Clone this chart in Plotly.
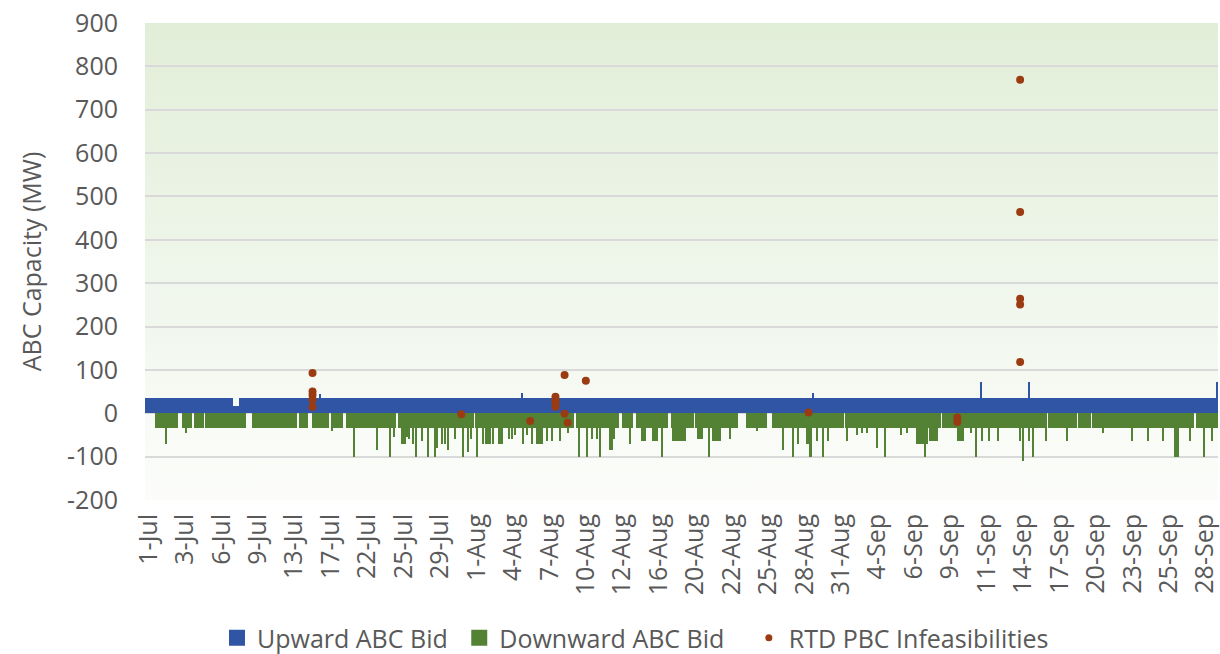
import base64
import plotly.graph_objects as go

# ---------------- data ----------------
N_INTERVALS = 1060          # number of interval categories on the x axis
LABEL_STEP = 36             # a date label every 36 intervals
LABEL_OFFSET = 3
date_labels = ["1-Jul", "3-Jul", "6-Jul", "9-Jul", "13-Jul", "17-Jul", "22-Jul", "25-Jul", "29-Jul",
               "1-Aug", "4-Aug", "7-Aug", "10-Aug", "12-Aug", "16-Aug", "20-Aug", "22-Aug", "25-Aug",
               "28-Aug", "31-Aug", "4-Sep", "6-Sep", "9-Sep", "11-Sep", "14-Sep", "17-Sep", "20-Sep",
               "23-Sep", "25-Sep", "28-Sep"]
y_tick_values = [-200, -100, 0, 100, 200, 300, 400, 500, 600, 700, 800, 900]
y_tick_labels = ["-200", "-100", "0", "100", "200", "300", "400", "500", "600", "700", "800", "900"]
series_names = ["Upward ABC Bid", "Downward ABC Bid", "RTD PBC Infeasibilities"]

# Upward ABC bid: typical level plus exceptions (start, end, MW)
up_level = 35
up_exceptions = [(86, 92, 16), (139, 139, 28), (172, 172, 45), (372, 372, 47), (659, 659, 47),
                 (685, 685, 0), (825, 825, 72), (873, 873, 72), (1059, 1059, 72)]

# Downward ABC bid: runs at the typical level (start, end) and deeper intervals (start, end, MW)
down_level = -35
down_runs = [(10, 31), (37, 45), (49, 57), (60, 98), (106, 128), (130, 149), (153, 160), (165, 180),
             (184, 194), (199, 217), (219, 236), (238, 246), (250, 310), (312, 324), (326, 346),
             (348, 368), (370, 377), (378, 422), (426, 455), (457, 467), (472, 481), (486, 499),
             (501, 515), (520, 541), (544, 572), (574, 584), (594, 613), (620, 681), (683, 689),
             (692, 697), (699, 785), (788, 890), (893, 919), (922, 933), (936, 1035), (1039, 1059)]
down_deep = [(20, 20, -70), (40, 40, -45), (184, 184, -42), (206, 206, -100), (229, 229, -85),
             (242, 242, -100), (245, 245, -55), (253, 256, -70), (257, 258, -55), (260, 260, -60),
             (264, 264, -70), (267, 267, -100), (273, 273, -65), (279, 279, -100), (286, 286, -100),
             (288, 288, -80), (293, 293, -70), (296, 296, -70), (299, 299, -85), (306, 306, -60),
             (314, 314, -100), (319, 319, -90), (322, 322, -60), (327, 327, -100), (333, 333, -70),
             (336, 336, -70), (338, 338, -70), (340, 340, -70), (343, 343, -70), (349, 352, -70),
             (359, 359, -60), (362, 362, -60), (365, 365, -50), (373, 373, -70), (377, 377, -50),
             (382, 382, -70), (387, 392, -70), (397, 397, -65), (402, 402, -65), (409, 409, -65),
             (417, 417, -45), (428, 428, -100), (436, 436, -100), (441, 441, -60), (446, 446, -60),
             (449, 449, -100), (459, 461, -85), (463, 463, -60), (479, 479, -70), (490, 493, -65),
             (501, 505, -65), (510, 510, -100), (521, 533, -65), (546, 550, -60), (557, 557, -100),
             (561, 568, -65), (577, 577, -60), (604, 604, -40), (630, 630, -85), (640, 640, -100),
             (645, 645, -70), (653, 655, -70), (656, 657, -100), (663, 663, -65), (669, 669, -100),
             (674, 674, -65), (693, 693, -65), (703, 703, -50), (708, 708, -45), (713, 713, -45),
             (723, 723, -80), (731, 731, -100), (746, 746, -50), (752, 752, -45), (762, 772, -70),
             (770, 770, -100), (775, 782, -65), (803, 808, -65), (815, 815, -45), (820, 820, -100),
             (826, 826, -65), (833, 833, -65), (842, 842, -65), (864, 864, -65), (867, 867, -110),
             (873, 873, -65), (877, 877, -100), (890, 890, -65), (910, 910, -65), (946, 946, -45),
             (975, 975, -65), (990, 990, -65), (1005, 1005, -65), (1017, 1020, -100),
             (1032, 1032, -65), (1046, 1046, -100), (1054, 1054, -65)]

# RTD PBC infeasibilities (interval, MW)
infeas_interval = [165, 165, 165, 165, 165, 312, 380, 405, 405, 405, 405, 414, 414, 417, 435,
                   655, 802, 802, 864, 864, 864, 864, 864]
infeas_mw = [93, 50, 42, 32, 15, -2, -18, 38, 30, 25, 15, 88, -1, -22, 75,
             2, -10, -20, 769, 464, 264, 251, 118]

# ---------------- build series ----------------
intervals = list(range(N_INTERVALS))
upward = [up_level] * N_INTERVALS
for s, e, v in up_exceptions:
    for i in range(s, e + 1):
        upward[i] = v
downward = [0] * N_INTERVALS
for s, e in down_runs:
    for i in range(s, e + 1):
        downward[i] = down_level
for s, e, v in down_deep:
    for i in range(s, e + 1):
        downward[i] = v

BLUE = "#2F55A4"
GREEN = "#548235"
BROWN = "#9A3B12"
TXT = "#595959"
FONT = "Open Sans"
FS = 25
NBSP = "\u00a0"

fig = go.Figure()
fig.add_bar(x=intervals, y=upward, width=1, marker=dict(color=BLUE, line=dict(width=0)),
            name=series_names[0], showlegend=False, hoverinfo="skip")
fig.add_bar(x=intervals, y=downward, width=1, marker=dict(color=GREEN, line=dict(width=0)),
            name=series_names[1], showlegend=False, hoverinfo="skip")
fig.add_scatter(x=infeas_interval, y=infeas_mw, mode="markers",
                marker=dict(size=8, color=BROWN), name=series_names[2], showlegend=False)
# legend entries
fig.add_scatter(x=[None], y=[None], mode="markers", name=series_names[0] + NBSP,
                marker=dict(symbol="square", size=16, color=BLUE))
fig.add_scatter(x=[None], y=[None], mode="markers", name=series_names[1] + NBSP * 3,
                marker=dict(symbol="square", size=16, color=GREEN))
fig.add_scatter(x=[None], y=[None], mode="markers", name=series_names[2],
                marker=dict(size=7, color=BROWN))

svg = ("<svg xmlns='http://www.w3.org/2000/svg' width='100' height='100' preserveAspectRatio='none'>"
       "<defs><linearGradient id='g' x1='0' y1='0' x2='0' y2='1'>"
       "<stop offset='0' stop-color='#E1EED8'/><stop offset='1' stop-color='#FCFDFB'/>"
       "</linearGradient></defs><rect width='100' height='100' fill='url(#g)'/></svg>")
src = "data:image/svg+xml;base64," + base64.b64encode(svg.encode()).decode()

fig.update_layout(
    width=1220, height=654,
    margin=dict(l=145, r=2, t=23, b=154, autoexpand=False),
    paper_bgcolor="white", plot_bgcolor="rgba(0,0,0,0)",
    barmode="relative", bargap=0,
    font=dict(family=FONT, size=FS, color=TXT),
    images=[dict(source=src, xref="paper", yref="paper", x=0, y=1, sizex=1, sizey=1,
                 sizing="stretch", xanchor="left", yanchor="top", layer="below")],
    xaxis=dict(range=[-0.5, N_INTERVALS - 0.5], automargin=False,
               tickvals=[LABEL_OFFSET + k * LABEL_STEP for k in range(len(date_labels))],
               ticktext=date_labels, tickangle=-90, showgrid=False, zeroline=False,
               showline=False, ticks="", tickfont=dict(size=FS, color=TXT, family=FONT),
               ticklabelstandoff=8, ticklabeloverflow="allow"),
    yaxis=dict(range=[-200, 900], automargin=False, tickvals=y_tick_values, ticktext=y_tick_labels,
               showgrid=True, gridcolor="#D9D9D9", gridwidth=1.5,
               zeroline=False, showline=False, ticks="",
               tickfont=dict(size=FS, color=TXT, family=FONT), ticklabelstandoff=26,
               ticklabeloverflow="allow",
               title=dict(text="ABC Capacity (MW)", font=dict(size=FS, color=TXT, family=FONT),
                          standoff=18)),
    legend=dict(orientation="h", xref="container", yref="container", x=217 / 1220, y=16 / 654,
                xanchor="left", yanchor="middle", font=dict(size=FS, color=TXT, family=FONT),
                bgcolor="rgba(0,0,0,0)", borderwidth=0),
    hovermode=False,
)

fig.write_html("out.html", config={"displayModeBar": False},
               post_script="document.body.style.margin='0';document.body.style.padding='0';")
